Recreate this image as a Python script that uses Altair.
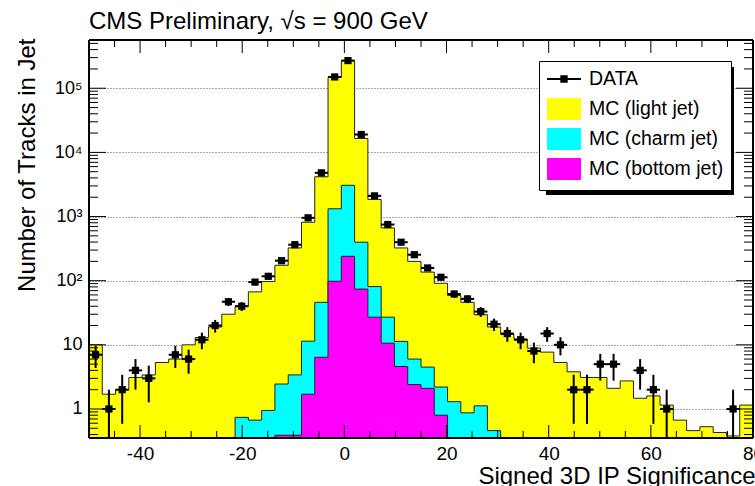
import altair as alt
import numpy as np
import pandas as pd

# ---------------- data ----------------
x_lo, x_hi, n_bins = -50.0, 80.0, 50
y_lo, y_hi = 0.353, 5.65e5

series_names = ["DATA", "MC (light jet)", "MC (charm jet)", "MC (bottom jet)"]
series_colors = ["#000000", "#ffff00", "#00ffff", "#ff00ff"]

data_counts = [7, 1, 2, 4, 3, 0, 7, 6, 12, 20,
               47, 40, 95, 117, 205, 364, 955, 4800, 150000, 270000,
               19000, 2100, 750, 398, 254, 158, 113, 62, 52, 33,
               21, 15, 12, 8, 15, 10, 2, 2, 5, 5,
               0, 4, 2, 1, 0, 0, 0, 0, 1, 0]

# stacked MC outlines: light on top of charm on top of bottom
mc_light_stack = [10, 1.7, 2.0, 3.1, 3.4, 5.3, 6.0, 10, 13, 19,
                  30, 40, 67, 97, 174, 324, 815, 4170, 147000, 267000,
                  16500, 1850, 665, 324, 200, 136, 91, 59, 46, 29.5,
                  19, 14.5, 12.3, 8.9, 7.7, 5.3, 3.8, 3.1, 3.1, 2.1,
                  2.74, 1.47, 1.6, 1.15, 0.67, 0.46, 0.53, 0.43, 0.38, 1.15]
mc_charm_stack = [0, 0, 0, 0, 0, 0, 0, 0, 0, 0,
                  0, 0.74, 0.67, 0.95, 2.45, 3.4, 11.4, 46, 1320, 3070,
                  398, 81, 27, 11.3, 6.0, 4.5, 2.2, 1.3, 0.87, 1.12,
                  0.46, 0, 0, 0, 0, 0, 0, 0, 0, 0,
                  0, 0, 0, 0, 0, 0, 0, 0, 0, 0]
mc_bottom_stack = [0, 0, 0, 0, 0, 0, 0, 0, 0, 0,
                   0, 0, 0, 0, 0.39, 0.39, 1.7, 6.4, 98, 240,
                   74, 27, 10.6, 4.6, 2.4, 2.1, 0.8, 0, 0, 0,
                   0, 0, 0, 0, 0, 0, 0, 0, 0, 0,
                   0, 0, 0, 0, 0, 0, 0, 0, 0, 0]

x_major = [-40, -20, 0, 20, 40, 60, 80]
x_minor = [-45, -35, -30, -25, -15, -10, -5, 5, 10, 15, 25, 30, 35,
           45, 50, 55, 65, 70, 75]
y_major = [1, 10, 100, 1000, 10000, 100000]
y_minor = [m * 10.0 ** e for e in range(-1, 6) for m in range(2, 10)
           if y_lo < m * 10.0 ** e < y_hi]

# ---------------- layout constants ----------------
W, H = 664, 398
FONT = "Liberation Sans"
FLOOR = 0.05  # empty bins are drawn down below the frame (clipped)

edges = np.linspace(x_lo, x_hi, n_bins + 1)


def step_table(vals):
    v = [x if x > 0 else FLOOR for x in vals]
    return pd.DataFrame({"x": edges, "v": v + [v[-1]], "base": FLOOR})


xs = alt.Scale(domain=[x_lo, x_hi], nice=False, zero=False)
ys = alt.Scale(type="log", domain=[y_lo, y_hi], nice=False)

x_axis = alt.Axis(values=x_major, title="Signed 3D IP Significance", grid=False,
                  ticks=False, domain=False, labelFont=FONT, labelFontSize=19,
                  labelColor="black", labelPadding=6, labelFlush=False,
                  labelExpr="'' + datum.value",
                  titleFont=FONT, titleFontSize=24, titleFontWeight="normal",
                  titleColor="black", titleX=W + 2, titleY=45, titleAlign="right",
                  titleBaseline="alphabetic")
y_axis = alt.Axis(values=y_major, title="Number of Tracks in Jet", grid=True,
                  gridDash=[1, 2], gridColor="#555555", gridWidth=1,
                  ticks=False, domain=False, labelFont=FONT, labelFontSize=18,
                  labelColor="black", labelPadding=7,
                  labelExpr="datum.value < 5 ? '1' : datum.value < 50 ? '10' : "
                            "datum.value < 500 ? '10²' : datum.value < 5000 ? '10³' : "
                            "datum.value < 50000 ? '10⁴' : '10⁵'",
                  titleFont=FONT, titleFontSize=24, titleFontWeight="normal",
                  titleColor="black", titleX=-55, titleY=-2, titleAlign="right",
                  titleBaseline="alphabetic")


def X(field):
    return alt.X(field, scale=xs, axis=x_axis)


def Y(field):
    return alt.Y(field, scale=ys, axis=y_axis)


def hist_layers(vals, color):
    df = step_table(vals)
    area = alt.Chart(df).mark_area(interpolate="step-after", color=color,
                                   opacity=1, clip=True).encode(
        x=X("x:Q"), y=Y("v:Q"), y2="base:Q")
    line = alt.Chart(df).mark_line(interpolate="step-after", color="#222222",
                                   strokeWidth=1, clip=True).encode(
        x=X("x:Q"), y=Y("v:Q"))
    return [area, line]


# ---------------- data points ----------------
ddf = pd.DataFrame({"lo": edges[:-1], "hi": edges[1:],
                    "c": (edges[:-1] + edges[1:]) / 2, "n": data_counts})
ddf = ddf[ddf["n"] > 0].copy()
ddf["elo"] = np.maximum(ddf["n"] - np.sqrt(ddf["n"]), FLOOR)
ddf["ehi"] = ddf["n"] + np.sqrt(ddf["n"])

xerr = alt.Chart(ddf).mark_rule(color="black", strokeWidth=2).encode(
    x=X("lo:Q"), x2="hi:Q", y=Y("n:Q"))
yerr = alt.Chart(ddf).mark_rule(color="black", strokeWidth=2, clip=True).encode(
    x=X("c:Q"), y=Y("elo:Q"), y2="ehi:Q")
markers = alt.Chart(ddf).mark_square(color="black", size=52, opacity=1).encode(
    x=X("c:Q"), y=Y("n:Q"))


# ---------------- tick marks drawn inside the frame ----------------
def y_ticks(vals, length):
    df = pd.DataFrame({"v": vals})
    left = alt.Chart(df).mark_rule(color="black", strokeWidth=1).encode(
        y=Y("v:Q"), x=alt.value(0), x2=alt.value(length))
    right = alt.Chart(df).mark_rule(color="black", strokeWidth=1).encode(
        y=Y("v:Q"), x=alt.value(W), x2=alt.value(W - length))
    return [left, right]


def x_ticks(vals, length):
    df = pd.DataFrame({"t": vals})
    bottom = alt.Chart(df).mark_rule(color="black", strokeWidth=1).encode(
        x=X("t:Q"), y=alt.value(H), y2=alt.value(H - length))
    top = alt.Chart(df).mark_rule(color="black", strokeWidth=1).encode(
        x=X("t:Q"), y=alt.value(0), y2=alt.value(length))
    return [bottom, top]


one = pd.DataFrame({"k": [0]})
frame = [
    alt.Chart(one).mark_rule(color="black", strokeWidth=2).encode(
        x=alt.value(0), y=alt.value(0), y2=alt.value(H)),
    alt.Chart(one).mark_rule(color="black", strokeWidth=2).encode(
        x=alt.value(W), y=alt.value(0), y2=alt.value(H)),
    alt.Chart(one).mark_rule(color="black", strokeWidth=2).encode(
        x=alt.value(0), x2=alt.value(W), y=alt.value(0)),
    alt.Chart(one).mark_rule(color="black", strokeWidth=2).encode(
        x=alt.value(0), x2=alt.value(W), y=alt.value(H)),
]

# ---------------- legend ----------------
box = "M-1.7,-1.1H1.7V1.1H-1.7Z"
dat = "M-1.7,-0.1H1.7V0.1H-1.7Z M-0.37,-0.37H0.37V0.37H-0.37Z"
leg = alt.Legend(title=None, orient="none", legendX=450, legendY=21,
                 symbolSize=400, symbolOpacity=1, symbolOffset=7,
                 labelFont=FONT, labelFontSize=19.5, labelColor="black",
                 strokeColor="black", fillColor="white", padding=7,
                 rowPadding=2, labelOffset=14, gridAlign="all",
                 cornerRadius=0, zindex=1)
legdf = pd.DataFrame({"series": series_names})
legend_layer = alt.Chart(legdf).mark_point(filled=True, opacity=0).encode(
    color=alt.Color("series:N", scale=alt.Scale(domain=series_names, range=series_colors),
                    legend=leg),
    shape=alt.Shape("series:N", scale=alt.Scale(domain=series_names,
                                                range=[dat, box, box, box]),
                    legend=leg),
)
shadow = alt.Chart(one).mark_rect(color="black").encode(
    x=alt.value(457), x2=alt.value(645), y=alt.value(27), y2=alt.value(155))

layers = (hist_layers(mc_light_stack, "#ffff00")
          + hist_layers(mc_charm_stack, "#00ffff")
          + hist_layers(mc_bottom_stack, "#ff00ff")
          + [xerr, yerr, markers]
          + y_ticks(y_major, 17) + y_ticks(y_minor, 9)
          + x_ticks(x_major, 13) + x_ticks(x_minor, 7)
          + frame + [shadow, legend_layer])

chart = alt.layer(*layers).properties(
    width=W, height=H,
    autosize=alt.AutoSizeParams(type="none"),
    padding={"left": 89, "top": 40, "right": 2, "bottom": 48},
    title=alt.TitleParams("CMS Preliminary, √s = 900 GeV", anchor="start",
                          frame="group", font=FONT, fontSize=24,
                          fontWeight="normal", color="black",
                          baseline="alphabetic", offset=12, dy=27),
).configure_view(stroke=None).configure(background="white")

chart.save("out.html", embed_options={"renderer": "svg", "actions": False})
